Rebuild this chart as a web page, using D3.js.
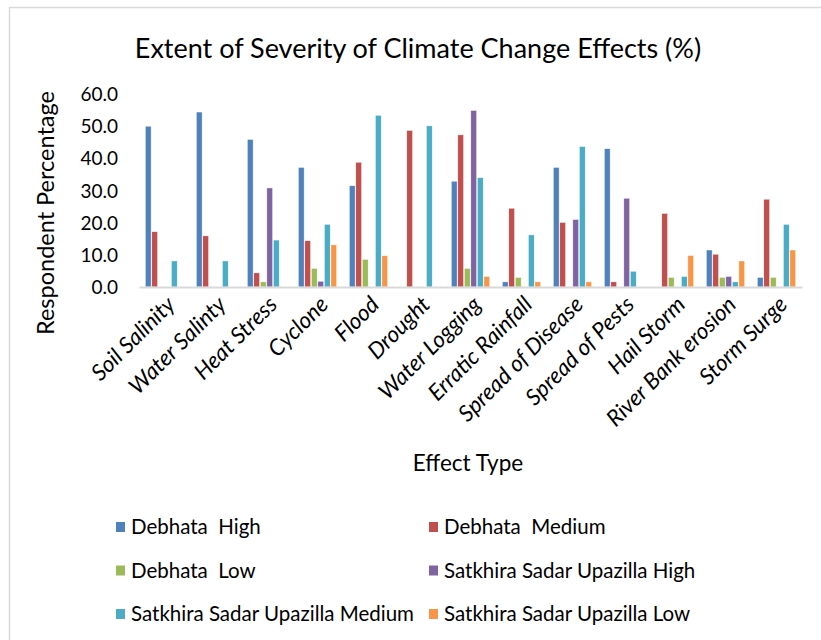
<!DOCTYPE html>
<html><head><meta charset="utf-8">
<script src="https://cdn.jsdelivr.net/npm/d3@7/dist/d3.min.js"></script>
<style>body{margin:0;background:#fff}svg{display:block}</style>
</head><body><svg id="c" width="821" height="640"></svg>
<script>
const categories = ["Soil Salinity","Water Salinty","Heat Stress","Cyclone","Flood","Drought","Water Logging","Erratic Rainfall","Spread of Disease","Spread of Pests","Hail Storm","River Bank erosion","Storm Surge"];
const seriesNames = ["Debhata  High","Debhata  Medium","Debhata  Low","Satkhira Sadar Upazilla High","Satkhira Sadar Upazilla Medium","Satkhira Sadar Upazilla Low"];
const debhataHigh   = [50.0,54.4,45.9,37.2,31.5,0,32.9,1.6,37.2,43.0,0,11.5,3.0];
const debhataMedium = [17.2,15.9,4.4,14.4,38.8,48.7,47.3,24.5,20.1,1.6,22.9,10.2,27.3];
const debhataLow    = [0,0,1.6,5.8,8.6,0,5.8,3.0,0,0,3.0,3.0,3.0];
const satkhiraHigh  = [0,0,30.8,1.8,0,0,54.9,0,21.0,27.6,0,3.3,0];
const satkhiraMedium= [8.1,8.1,14.6,19.5,53.4,50.1,34.0,16.2,43.7,4.9,3.3,1.6,19.5];
const satkhiraLow   = [0,0,0,13.1,9.7,0,3.3,1.6,1.6,0,9.8,8.1,11.5];
const yTicks = [0,10,20,30,40,50,60];
const colors = ["#4F81BD","#C0504D","#9BBB59","#8064A2","#4BACC6","#F79646"];

const series = [debhataHigh,debhataMedium,debhataLow,satkhiraHigh,satkhiraMedium,satkhiraLow];
const svg = d3.select("#c");
const font = "Lato, 'Open Sans', sans-serif";

// frame
svg.append("path").attr("d","M9.5,640 V7.5 H821").attr("fill","none").attr("stroke","#D9D9D9").attr("stroke-width",1.5);

const x0 = d3.scaleBand().domain(categories).range([139,802]).padding(0);
const x1 = d3.scaleBand().domain(d3.range(6)).range([x0.bandwidth()*0.11, x0.bandwidth()*0.89]).padding(0.1);
const y = d3.scaleLinear().domain([0,60]).range([287,94]);

svg.append("text").attr("x",418).attr("y",58).attr("text-anchor","middle")
  .attr("font-family",font).attr("font-size",27).attr("fill","#000")
  .text("Extent of Severity of Climate Change Effects (%)");

// y axis labels
const yAxis = d3.axisLeft(y).tickValues(yTicks).tickFormat(d3.format(".1f")).tickSize(0).tickPadding(0);
const ga = svg.append("g").attr("transform","translate(118,0)").call(yAxis);
ga.select(".domain").remove();
ga.selectAll("text").attr("font-family",font).attr("font-size",19).attr("fill","#000").attr("dy","0.35em");

// bars
const groups = svg.append("g").selectAll("g").data(categories).join("g")
  .attr("transform",c=>`translate(${x0(c)},0)`);
groups.selectAll("rect").data((c,i)=>series.map((s,k)=>({k,v:s[i]})).filter(d=>d.v>0)).join("rect")
  .attr("x",d=>x1(d.k)).attr("width",x1.bandwidth())
  .attr("y",d=>y(d.v)).attr("height",d=>y(0)-y(d.v))
  .attr("fill",d=>colors[d.k]).attr("stroke","#fff").attr("stroke-width",0.5);

// x axis
const xAxis = d3.axisBottom(x0).tickSize(0).tickPadding(0);
const gx = svg.append("g").attr("transform","translate(0,287)").call(xAxis);
gx.select(".domain").attr("stroke","#D9D9D9").attr("stroke-width",2);
gx.selectAll("text").attr("font-family",font).attr("font-size",22.5).attr("font-style","italic").attr("fill","#000")
  .attr("text-anchor","end").attr("dy",null).attr("y",0)
  .attr("transform","translate(12,19) rotate(-45)");

svg.append("text").attr("x",468).attr("y",471).attr("text-anchor","middle")
  .attr("font-family",font).attr("font-size",22.5).attr("fill","#000").text("Effect Type");
svg.append("text").attr("transform","translate(54,213) rotate(-90)").attr("text-anchor","middle")
  .attr("font-family",font).attr("font-size",23.5).attr("fill","#000").text("Respondent Percentage");

// legend
const lg = svg.append("g").selectAll("g").data(seriesNames).join("g")
  .attr("transform",(d,i)=>`translate(${i%2===0?116:429},${527+Math.floor(i/2)*43.5})`);
lg.append("rect").attr("x",0).attr("y",-5).attr("width",9).attr("height",10).attr("fill",(d,i)=>colors[i]);
lg.append("text").attr("x",15).attr("y",0).attr("dy","0.35em").attr("font-family",font).attr("font-size",20.5).attr("fill","#000")
  .attr("xml:space","preserve").style("white-space","pre").text(d=>d);
</script></body></html>
